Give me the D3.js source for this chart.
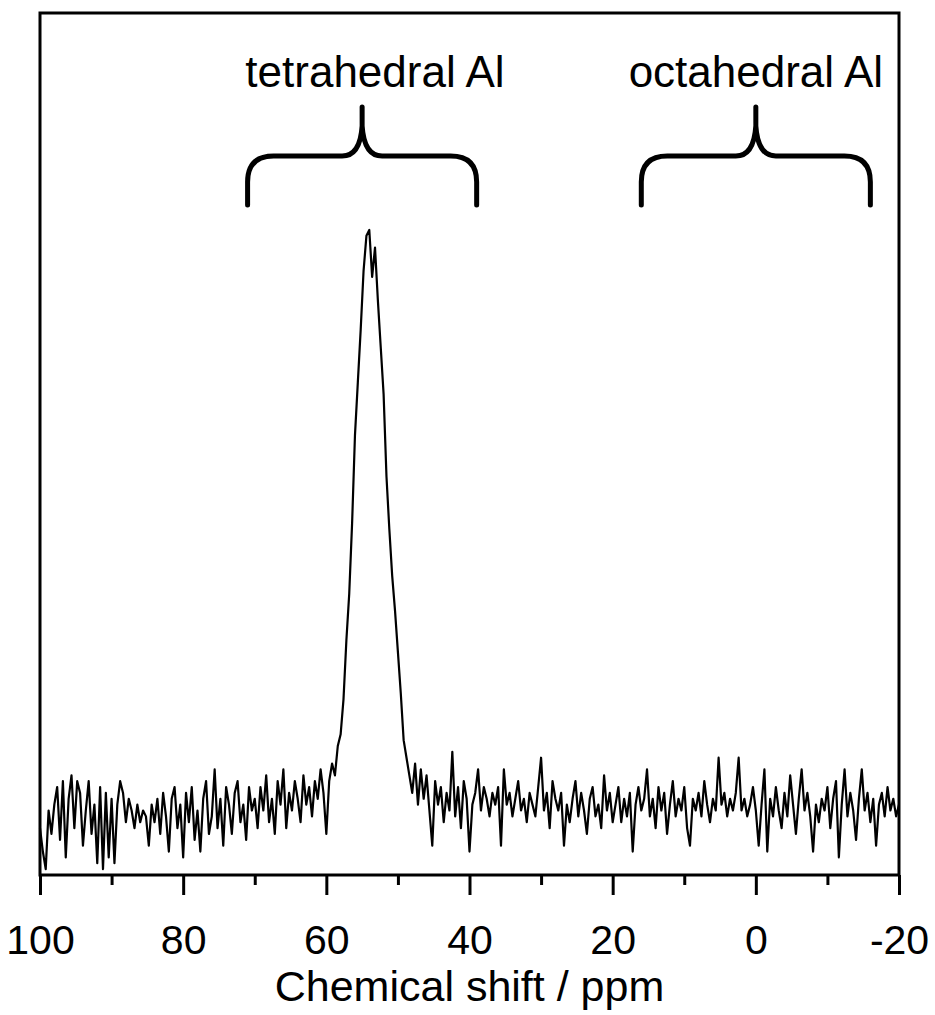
<!DOCTYPE html>
<html>
<head>
<meta charset="utf-8">
<script src="https://cdn.jsdelivr.net/npm/d3@7"></script>
<style>
  body { margin: 0; background: #fff; }
  text { font-family: "Liberation Sans", Arial, sans-serif; fill: #000; }
</style>
</head>
<body>
<svg id="chart"></svg>
<script>
// 27Al spectrum, sampled every 0.4 ppm from 100 ppm down to -20 ppm
var shiftStart = 100, shiftStep = 0.4;
var intensity = [
  -2, -6, -9, 1, -3, 2, 5, -4, 6, -7, 3, 7, -2, 6, 4, -5, 1, 6, -3, 2, -8, 5, -9, 4, -7,
  3, -8, 2, 6, 4, -1, 3, 1, -2, 2, -1, 1, 0, -5, 2, -1, 3, -3, 4, 0, -6, 3, 5, -2, 2, -7,
  4, -1, 5, -4, 1, -6, 3, 6, -3, 0, 8, -2, 3, -5, 5, 2, -3, 4, 6, -1, 2, -4, 5, 1, 3,
  -2, 5, 1, 7, -1, 3, -3, 6, 2, 8, -2, 4, 1, 6, 3, -1, 7, 2, 5, 0, 6, 3, 8, 4,
  -3, 6, 9, 7, 12, 14, 20, 30, 38, 50, 65, 74, 83, 93, 99, 100, 92, 97, 88, 80,
  72, 58, 49, 41, 35, 28, 21, 13, 10, 7, 4, 9, 2, 8,
  3, 7, 1, -5, 6, 2, 5, -1, 4, 1, 11, 0, 5, -2, 6, 3, -6, 2, 4, 8, 1, 5, 3, 0, 4,
  2, 5, -5, 8, 2, 4, 0, 3, 6, 1, 3, -1, 4, 2, 0, 5, 10, 1, 4, -2, 6, 3, 1, 4, -5,
  2, -1, 3, 6, 0, 4, 1, -3, 3, 5, 0, 2, -2, 7, 1, 4, -1,
  2, 5, -1, 3, 0, 4, -6, 2, 5, 1, 3, 8, 0, 3, -2, 5, 1, 4, -3, 2, 6, 0, 3, 1, 5,
  -2, -5, 3, 1, 4, 0, 6, 2, -1, 3, 1, 10, 2, 4, 0, 3, 1, 4, 10, 1, 3, 0, 2, 5, 1,
  -5, 2, 8, -6, 3, 0, 5, 1, -2, 4, 0, 7, 2, -3, 3, 8, 1, 4, 0, -6, 2, -1, 3, 1, 5,
  -2, 3, 6, -7, 2, 8, 0, 4, 1, -4, 3, 8, 1, 4, -1, 3, -5, 2, 4, 0, 5, 1, 3, 0, 2
];

var majorTicks = [100, 80, 60, 40, 20, 0, -20];
var minorTicks = [90, 70, 50, 30, 10, -10];

// bracketed regions
var regionLabels = ["tetrahedral Al", "octahedral Al"];
var regionFrom = [71, 16];
var regionTo = [39, -16];
var regionTip = [55, 0];
var regionLabelAt = [53.2, 0];

var data = intensity.map(function(v, i) {
    return { ppm: shiftStart - i * shiftStep, val: v };
});

drawChart(data);

function drawChart(data) {
    var svgWidth = 935, svgHeight = 1015;
    var margin = { top: 13, right: 36, bottom: 140, left: 40 };
    var width = svgWidth - margin.left - margin.right;
    var height = svgHeight - margin.top - margin.bottom;

    var svg = d3.select("#chart")
        .attr("width", svgWidth)
        .attr("height", svgHeight);

    var g = svg.append("g")
        .attr("transform", "translate(" + margin.left + "," + margin.top + ")");

    var x = d3.scaleLinear().domain([100, -20]).range([0, width]);
    var y = d3.scaleLinear().domain([-10, 137]).range([height, 0]);

    var line = d3.line()
        .x(function(d) { return x(d.ppm); })
        .y(function(d) { return y(d.val); });

    g.append("path")
        .datum(data)
        .attr("fill", "none")
        .attr("stroke", "#000")
        .attr("stroke-width", 2.2)
        .attr("stroke-linejoin", "round")
        .attr("d", line);

    // minor ticks
    g.append("g")
        .attr("transform", "translate(0," + height + ")")
        .call(d3.axisBottom(x).tickValues(minorTicks).tickSize(10).tickFormat(""))
        .call(function(a) {
            a.select(".domain").remove();
            a.selectAll("line").attr("stroke-width", 3);
        });

    // major ticks + labels (plain hyphen for the negative label)
    g.append("g")
        .attr("transform", "translate(0," + height + ")")
        .call(d3.axisBottom(x).tickValues(majorTicks).tickSize(20)
            .tickFormat(function(d) { return String(d); }))
        .call(function(a) {
            a.select(".domain").remove();
            a.selectAll("line").attr("stroke-width", 3);
            a.selectAll("text")
                .attr("y", 79)
                .attr("dy", 0)
                .style("font-size", "41px")
                .style("font-family", "'Liberation Sans', Arial, sans-serif")
                .attr("fill", "#000");
        });

    // frame
    g.append("rect")
        .attr("width", width)
        .attr("height", height)
        .attr("fill", "none")
        .attr("stroke", "#000")
        .attr("stroke-width", 3);

    g.append("text")
        .attr("x", width / 2)
        .attr("y", height + 126)
        .attr("text-anchor", "middle")
        .style("font-size", "43px")
        .text("Chemical shift / ppm");

    // curly brackets over the two regions
    var yBottom = 192, yBar = 143, yTop = 94;
    regionLabels.forEach(function(lbl, k) {
        var x1 = x(regionFrom[k]), x2 = x(regionTo[k]), xm = x(regionTip[k]);
        var p = d3.path();
        p.moveTo(x1, yBottom);
        p.lineTo(x1, yBar + 26);
        p.quadraticCurveTo(x1, yBar, x1 + 26, yBar);
        p.lineTo(xm - 20, yBar);
        p.quadraticCurveTo(xm - 2, yBar, xm, yBar - 30);
        p.lineTo(xm, yTop);
        p.moveTo(xm, yBar - 30);
        p.quadraticCurveTo(xm + 2, yBar, xm + 20, yBar);
        p.lineTo(x2 - 26, yBar);
        p.quadraticCurveTo(x2, yBar, x2, yBar + 26);
        p.lineTo(x2, yBottom);
        g.append("path")
            .attr("d", p.toString())
            .attr("fill", "none")
            .attr("stroke", "#000")
            .attr("stroke-width", 5)
            .attr("stroke-linecap", "round")
            .attr("stroke-linejoin", "round");

        g.append("text")
            .attr("x", x(regionLabelAt[k]))
            .attr("y", 74)
            .attr("text-anchor", "middle")
            .style("font-size", "44px")
            .text(lbl);
    });
}
</script>
</body>
</html>
